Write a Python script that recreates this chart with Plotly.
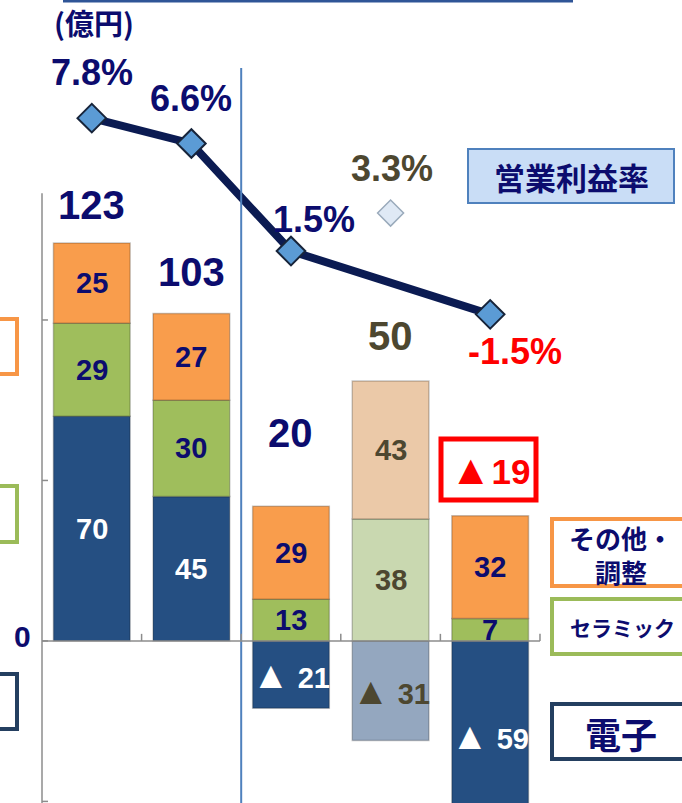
import plotly.graph_objects as go

# ---- data ----
categories = [0, 1, 2, 3, 4]
electronics = [70, 45, -21, -31, -59]
ceramics = [29, 30, 13, 38, 7]
others = [25, 27, 29, 43, 32]
total_labels = ["123", "103", "20", "50", "▲19"]
margin_pct = [7.8, 6.6, 1.5, 3.3, -1.5]
margin_labels = ["7.8%", "6.6%", "1.5%", "3.3%", "-1.5%"]
faded = [False, False, False, True, False]

W, H = 682, 803
FONT = "Liberation Sans, Arial, Noto Sans CJK JP, sans-serif"
JFONT = "Noto Sans CJK JP, sans-serif"
NAVY = "#0c0c6e"
OLIVE = "#4d4730"

def px(x):
    return x / W

def py(y):
    return 1 - y / H

def tri(text, size):
    # enlarge the ▲ glyph like the reference
    return text.replace("▲", '<span style="font-size:%dpx">▲</span>' % size)

elec_col = ["#94a7bf" if f else "#254f82" for f in faded]
cer_col = ["#c9d8b0" if f else "#9fbe5c" for f in faded]
oth_col = ["#ebc9a8" if f else "#f99d4c" for f in faded]

fig = go.Figure()
for vals, cols in [(electronics, elec_col), (ceramics, cer_col), (others, oth_col)]:
    fig.add_trace(go.Bar(
        x=categories, y=vals, width=0.77,
        marker=dict(color=cols, line=dict(color="rgba(0,0,0,0.22)", width=1.5)),
        showlegend=False, hoverinfo="skip"))

# operating margin line (non-faded points)
lx = [c for c, f in zip(categories, faded) if not f]
ly = [m for m, f in zip(margin_pct, faded) if not f]
fig.add_trace(go.Scatter(
    x=lx, y=ly, yaxis="y2", mode="lines+markers",
    line=dict(color="#0b1b52", width=8),
    marker=dict(symbol="diamond", size=22, color="#5b9bd5",
                line=dict(color="#17243a", width=2)),
    showlegend=False, hoverinfo="skip"))
fx = [c for c, f in zip(categories, faded) if f]
fy = [m for m, f in zip(margin_pct, faded) if f]
fig.add_trace(go.Scatter(
    x=fx, y=fy, yaxis="y2", mode="markers",
    marker=dict(symbol="diamond", size=20, color="#dfe9f5",
                line=dict(color="#9aaabb", width=1.5)),
    showlegend=False, hoverinfo="skip"))

ann = []
# segment labels
for i in categories:
    e, c, o = electronics[i], ceramics[i], others[i]
    base = max(e, 0)
    lblc = OLIVE if faded[i] else NAVY
    ec = OLIVE if faded[i] else "white"
    etxt = str(e) if e >= 0 else tri("▲", 38) + " " + str(-e)
    ann.append(dict(x=i, y=e / 2, text=etxt, showarrow=False,
                    font=dict(family=FONT, size=29, color=ec), xref="x", yref="y"))
    ann.append(dict(x=i, y=base + c / 2, text=str(c), showarrow=False,
                    font=dict(family=FONT, size=29, color=lblc), xref="x", yref="y"))
    ann.append(dict(x=i, y=base + c + o / 2, text=str(o), showarrow=False,
                    font=dict(family=FONT, size=29, color=lblc), xref="x", yref="y"))

# total labels
tot_shift = [38, 42, 73, 45, 46]
for i in categories:
    top = max(electronics[i], 0) + ceramics[i] + others[i]
    col = OLIVE if faded[i] else NAVY
    size = 40
    txt = total_labels[i]
    if txt.startswith("▲"):
        col = "#ff0000"
        size = 35
        txt = tri(txt, 42)
    ann.append(dict(x=i, y=top, yshift=tot_shift[i], text=txt, showarrow=False,
                    font=dict(family=FONT, size=size, color=col), xref="x", yref="y"))

# margin labels
m_dx = [0, 0, 23, 1, 25]
m_dy = [46, 45, 32, 45, -37]
for i in categories:
    col = OLIVE if faded[i] else NAVY
    if margin_pct[i] < 0:
        col = "#ff0000"
    ann.append(dict(x=i, y=margin_pct[i], xshift=m_dx[i], yshift=m_dy[i],
                    text=margin_labels[i], showarrow=False,
                    font=dict(family=FONT, size=36, color=col), xref="x", yref="y2"))

# other texts
ann.append(dict(x=px(94), y=py(22), xref="paper", yref="paper", text="<b>(億円)</b>",
                showarrow=False, font=dict(family=JFONT, size=29, color=NAVY)))
ann.append(dict(x=-0.5, y=0, xref="x", yref="y", xanchor="right", xshift=-9, yshift=4,
                text="<b>0</b>", showarrow=False, font=dict(family=FONT, size=30, color=NAVY)))
ann.append(dict(x=px(571), y=py(176), xref="paper", yref="paper", text="<b>営業利益率</b>",
                showarrow=False, font=dict(family=JFONT, size=31, color=NAVY)))
ann.append(dict(x=px(621), y=py(554), xref="paper", yref="paper", text="<b>その他・<br>調整</b>",
                showarrow=False, font=dict(family=JFONT, size=26, color=NAVY)))
ann.append(dict(x=px(622), y=py(627), xref="paper", yref="paper", text="<b>セラミック</b>",
                showarrow=False, font=dict(family=JFONT, size=21, color=NAVY)))
ann.append(dict(x=px(621), y=py(733), xref="paper", yref="paper", text="<b>電子</b>",
                showarrow=False, font=dict(family=JFONT, size=36, color=NAVY)))

for a in ann:
    if not a["text"].startswith("<b>"):
        a["text"] = "<b>" + a["text"] + "</b>"
    a.setdefault("xanchor", "center")
    a.setdefault("yanchor", "middle")

shapes = []
def box(x0, y0, x1, y1, color, width=4, fill="white"):
    shapes.append(dict(type="rect", xref="paper", yref="paper",
                       x0=px(x0), x1=px(x1), y0=py(y1), y1=py(y0),
                       line=dict(color=color, width=width), fillcolor=fill, layer="below"))

# legend boxes right
box(552, 519, 700, 586, "#f79646")
box(552, 599, 700, 654, "#9bbb59")
box(552, 704, 700, 759, "#243f60")
# cut boxes left
box(-60, 319, 17, 374, "#f79646")
box(-60, 486, 17, 542, "#9bbb59")
box(-60, 674, 17, 729, "#243f60")
# red box
box(441, 439, 536, 500, "#ff0000", width=5)
# ratio label box
box(468, 149, 674, 203, "#4f81bd", width=2, fill="#c9ddf6")

# top line
shapes.append(dict(type="line", xref="paper", yref="paper", x0=px(63), x1=px(573),
                   y0=py(1), y1=py(1), line=dict(color="#2f5597", width=3)))
# separator
shapes.append(dict(type="line", xref="x", yref="paper", x0=1.5, x1=1.5,
                   y0=0, y1=py(68), line=dict(color="#4f81bd", width=2)))
# axes
AX = "#8c8c8c"
shapes.append(dict(type="line", xref="x", yref="y", x0=-0.5, x1=4.5, y0=0, y1=0,
                   line=dict(color=AX, width=1.5)))
shapes.append(dict(type="line", xref="x", yref="y", x0=-0.5, x1=-0.5, y0=-55, y1=139.5,
                   line=dict(color=AX, width=1.5)))
for t in [-50, 0, 50, 100]:
    shapes.append(dict(type="line", xref="x", yref="y", x0=-0.5, x1=-0.44, y0=t, y1=t,
                       line=dict(color=AX, width=1.5)))
for b in [0.5, 1.5, 2.5, 3.5, 4.5]:
    shapes.append(dict(type="line", xref="x", yref="y", x0=b, x1=b, y0=0, y1=2.2,
                       line=dict(color=AX, width=1.5)))

fig.update_layout(
    width=W, height=H, margin=dict(l=0, r=0, t=0, b=0),
    paper_bgcolor="white", plot_bgcolor="white",
    barmode="relative", bargap=0.23,
    xaxis=dict(range=[-0.9217, 5.926], visible=False, fixedrange=True),
    yaxis=dict(range=[-50.5, 199.7], visible=False, fixedrange=True),
    yaxis2=dict(range=[-24.66, 13.40], visible=False, overlaying="y", fixedrange=True),
    annotations=ann, shapes=shapes, showlegend=False,
)

fig.write_html("out.html", config={"displayModeBar": False},
               post_script="document.body.style.margin='0px';")
